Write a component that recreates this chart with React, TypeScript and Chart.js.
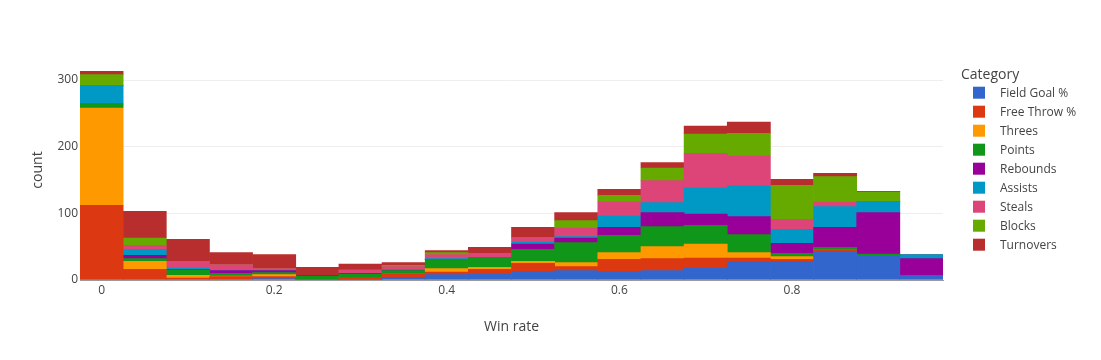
import React, { useEffect, useRef } from "react";
import { Chart, registerables } from "chart.js";

Chart.register(...registerables);

// bin centres (Win rate), bin width 0.05
const binCenters = [0, 0.05, 0.1, 0.15, 0.2, 0.25, 0.3, 0.35, 0.4, 0.45, 0.5, 0.55, 0.6, 0.65, 0.7, 0.75, 0.8, 0.85, 0.9, 0.95];

const fieldGoal = [0, 0, 0, 0, 2, 0, 1, 4, 8, 9, 13, 14, 13, 14, 18, 27, 28, 43, 37, 6];
const freeThrow = [112, 16, 3, 5, 3, 1, 3, 5, 4, 7, 12, 6, 18, 18, 15, 6, 3, 2, 0, 0];
const threes = [146, 12, 4, 1, 3, 0, 0, 0, 5, 3, 3, 6, 10, 18, 21, 8, 4, 0, 0, 0];
const points = [6, 4, 8, 4, 3, 5, 5, 5, 14, 15, 18, 30, 26, 30, 28, 27, 5, 4, 2, 0];
const rebounds = [0, 5, 1, 4, 3, 1, 1, 0, 0, 0, 8, 7, 12, 21, 17, 27, 15, 30, 62, 26];
const assists = [28, 9, 2, 0, 0, 0, 0, 2, 1, 0, 3, 2, 17, 15, 39, 46, 21, 31, 17, 6];
const steals = [0, 6, 10, 9, 3, 0, 5, 4, 6, 6, 7, 13, 21, 33, 52, 45, 15, 7, 0, 0];
const blocks = [16, 11, 0, 0, 0, 0, 0, 2, 3, 0, 0, 11, 10, 19, 29, 34, 51, 38, 14, 0];
const turnovers = [5, 40, 33, 18, 21, 12, 9, 4, 3, 9, 15, 12, 9, 8, 12, 17, 9, 5, 1, 0];

const categories = ["Field Goal %", "Free Throw %", "Threes", "Points", "Rebounds", "Assists", "Steals", "Blocks", "Turnovers"];
const seriesValues = [fieldGoal, freeThrow, threes, points, rebounds, assists, steals, blocks, turnovers];
const colors = ["#3366CC", "#DC3912", "#FF9900", "#109618", "#990099", "#0099C6", "#DD4477", "#66AA00", "#B82E2E"];

const xTicks = [0, 0.2, 0.4, 0.6, 0.8];
const yTicks = [0, 100, 200, 300];

const FONT = '"Open Sans", verdana, arial, sans-serif';
const TEXT = "#444444";

const legendPlugin = {
  id: "plotlyLegend",
  afterDraw(chart: any) {
    const ctx = chart.ctx;
    ctx.save();
    ctx.fillStyle = TEXT;
    ctx.textAlign = "left";
    ctx.textBaseline = "alphabetic";
    ctx.font = `14px ${FONT}`;
    ctx.fillText("Category", 961, 78.5);
    ctx.font = `12px ${FONT}`;
    categories.forEach((name, i) => {
      const cy = 92.7 + i * 19;
      ctx.fillStyle = colors[i];
      ctx.fillRect(973, cy - 6, 12, 12);
      ctx.fillStyle = TEXT;
      ctx.fillText(name, 1000, cy + 4.3);
    });
    ctx.restore();
  },
};

export default function App() {
  const ref = useRef<HTMLCanvasElement | null>(null);

  useEffect(() => {
    if (!ref.current) return;
    const chart = new Chart(ref.current, {
      type: "bar",
      data: {
        datasets: categories.map((name, i) => ({
          label: name,
          data: binCenters.map((x, j) => ({ x, y: seriesValues[i][j] })),
          backgroundColor: colors[i],
          borderWidth: 0,
          barPercentage: 1,
          categoryPercentage: 1,
        })),
      },
      options: {
        responsive: false,
        animation: false,
        layout: { padding: { left: 0, top: 60, right: 158, bottom: 0 } },
        plugins: {
          legend: { display: false },
          tooltip: { enabled: false },
        },
        font: { family: FONT },
        scales: {
          x: {
            type: "linear",
            stacked: true,
            offset: false,
            min: -0.025,
            max: 0.975,
            afterBuildTicks: (scale: any) => {
              scale.ticks = xTicks.map((v) => ({ value: v }));
            },
            afterFit: (scale: any) => {
              scale.height = 80;
            },
            grid: { display: false, drawTicks: false },
            border: { display: true, color: "#999999", width: 1 },
            ticks: {
              padding: 3,
              color: TEXT,
              font: { family: FONT, size: 12 },
              maxRotation: 0,
              callback: (v: any) => String(v),
            },
            title: {
              display: true,
              text: "Win rate",
              color: TEXT,
              font: { family: FONT, size: 14 },
              padding: { top: 0, bottom: 25 },
            },
          },
          y: {
            type: "linear",
            stacked: true,
            min: 0,
            max: 330,
            afterBuildTicks: (scale: any) => {
              scale.ticks = yTicks.map((v) => ({ value: v }));
            },
            afterFit: (scale: any) => {
              scale.width = 80;
            },
            grid: {
              drawTicks: false,
              color: (c: any) => (c.tick && c.tick.value === 0 ? "rgba(0,0,0,0)" : "#eeeeee"),
              lineWidth: 1,
            },
            border: { display: false },
            ticks: {
              padding: 2,
              color: TEXT,
              font: { family: FONT, size: 12 },
              callback: (v: any) => String(v),
            },
            title: {
              display: true,
              text: "count",
              color: TEXT,
              font: { family: FONT, size: 14 },
              padding: { top: 29.5, bottom: 0 },
            },
          },
        },
      },
      plugins: [legendPlugin],
    } as any);
    return () => chart.destroy();
  }, []);

  return (
    <div style={{ position: "absolute", left: 0, top: 0, width: 1101, height: 360, background: "#fff" }}>
      <canvas ref={ref} width={1101} height={360} style={{ display: "block", width: 1101, height: 360 }} />
    </div>
  );
}
